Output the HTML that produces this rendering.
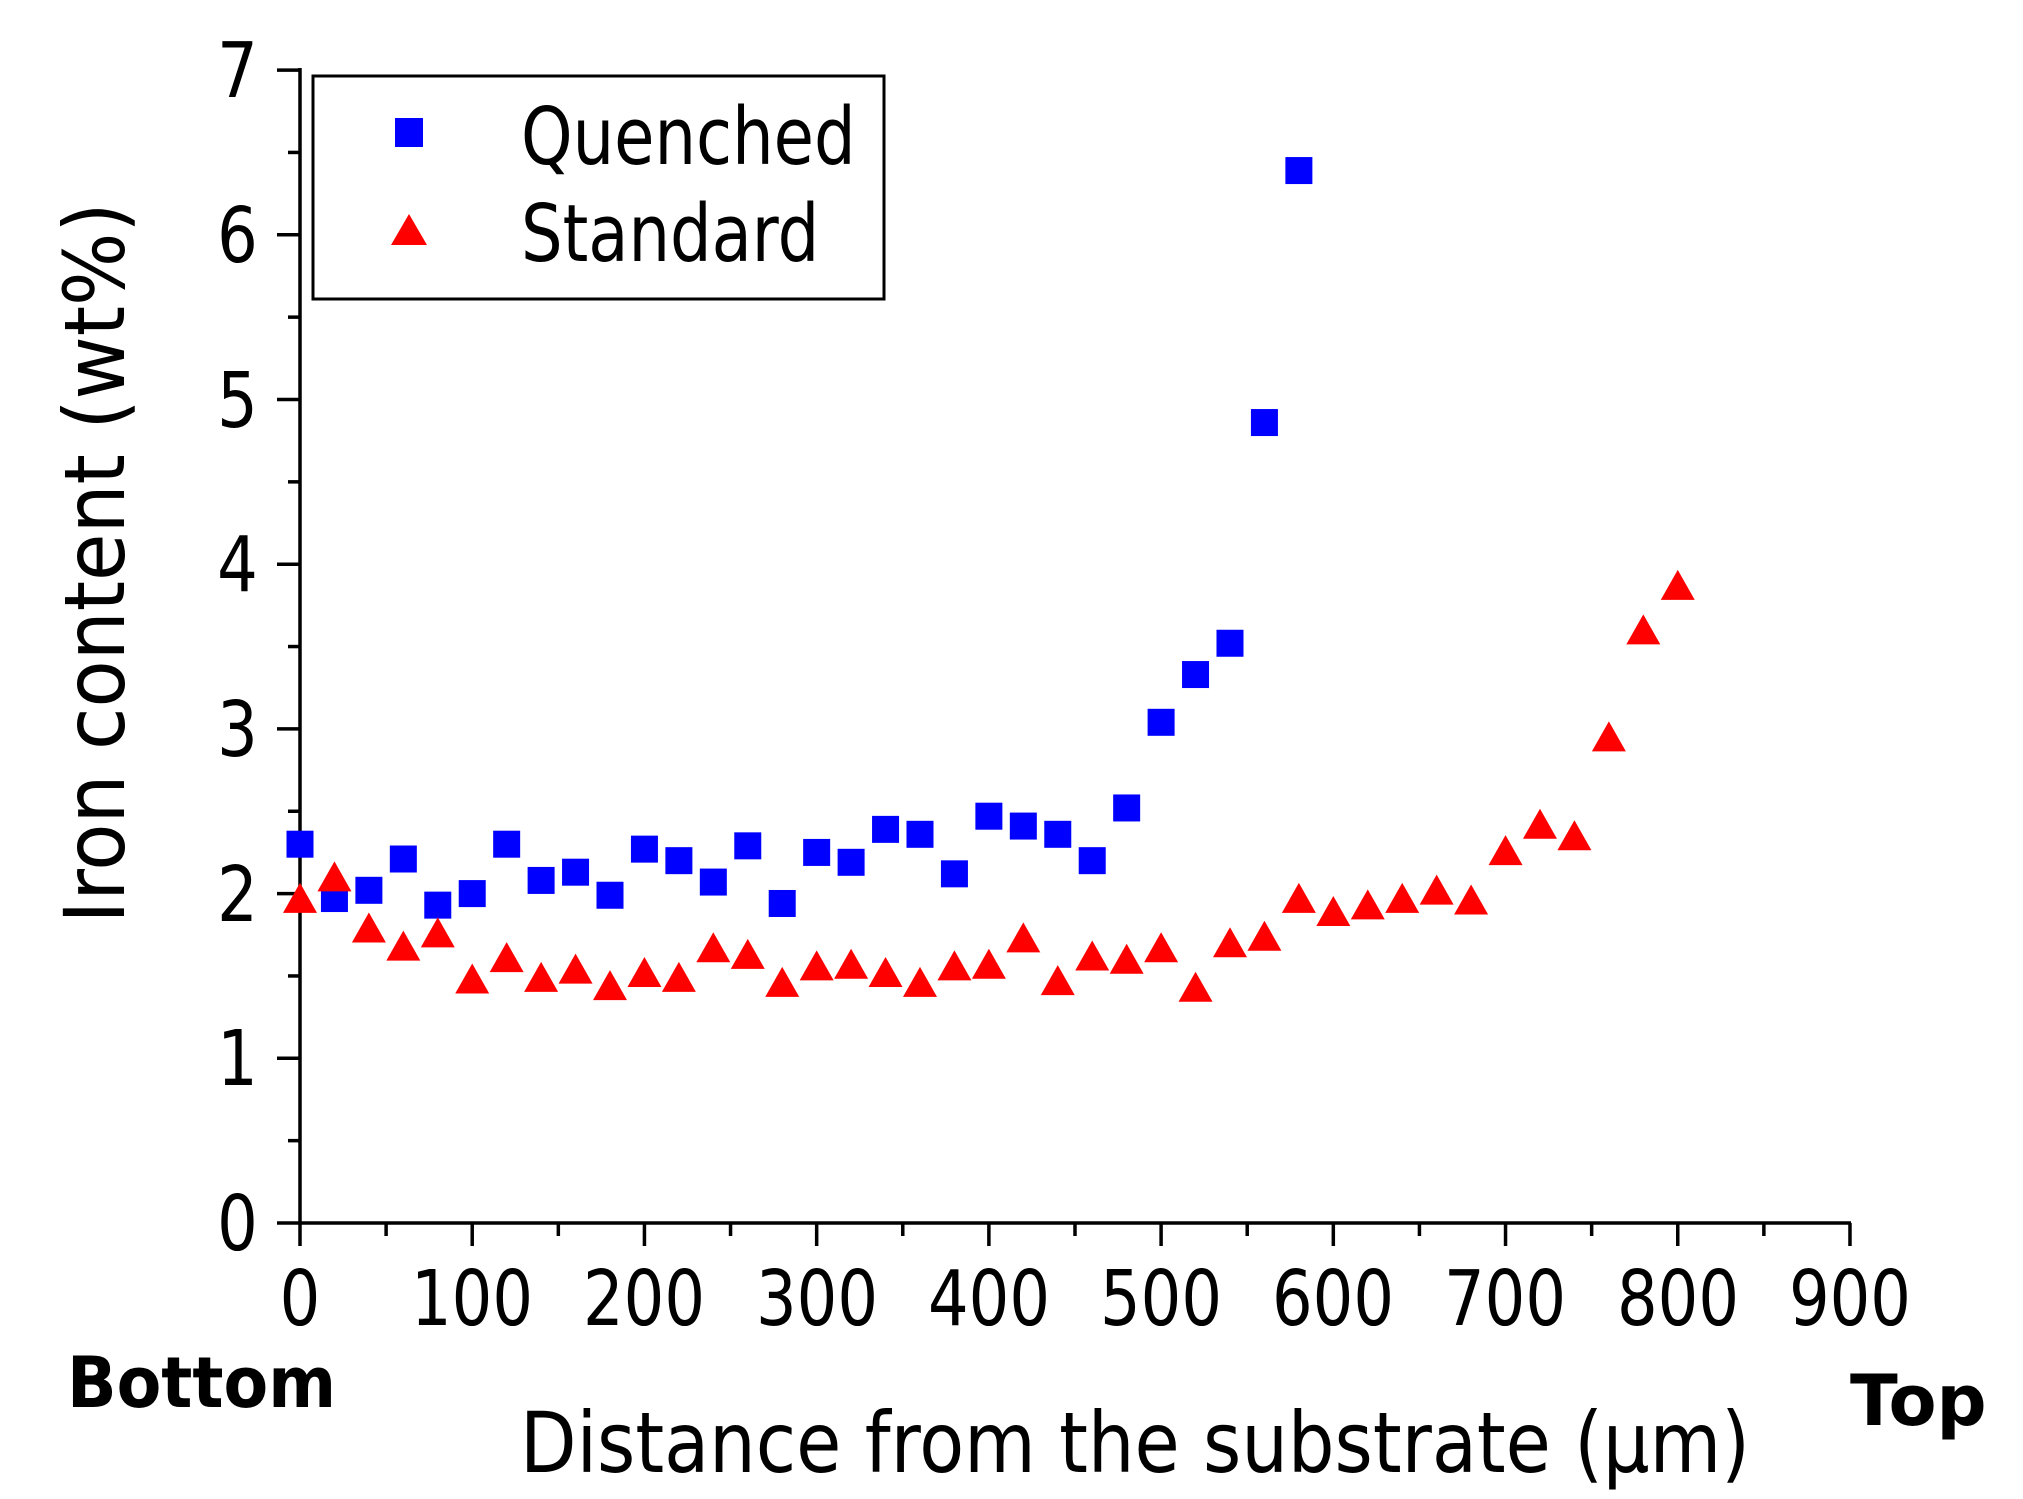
<!DOCTYPE html>
<html><head><meta charset="utf-8"><style>
html,body{margin:0;padding:0;background:#fff;}
svg{display:block;}
text{font-family:"DejaVu Sans","Liberation Sans",sans-serif;fill:#000;}
.c{transform-box:fill-box;transform-origin:center;transform:scaleX(0.83);}
.cl{transform-box:fill-box;transform-origin:left center;transform:scaleX(0.83);}
</style></head><body>
<svg id="s" width="2023" height="1499" viewBox="0 0 2023 1499" xmlns="http://www.w3.org/2000/svg">
<g id="ax" stroke="#000" stroke-width="3.5" fill="none">
<line x1="300" y1="68" x2="300" y2="1224"/>
<line x1="298" y1="1223" x2="1851" y2="1223"/>
</g>
<g font-size="77" text-anchor="middle">
<text class="c" x="300" y="1325">0</text>
<text class="c" x="472" y="1325">100</text>
<text class="c" x="644" y="1325">200</text>
<text class="c" x="817" y="1325">300</text>
<text class="c" x="989" y="1325">400</text>
<text class="c" x="1161" y="1325">500</text>
<text class="c" x="1333" y="1325">600</text>
<text class="c" x="1505" y="1325">700</text>
<text class="c" x="1678" y="1325">800</text>
<text class="c" x="1850" y="1325">900</text>
</g>
<g font-size="77" text-anchor="end">
<text class="c" x="262" y="1250">0</text>
<text class="c" x="262" y="1085">1</text>
<text class="c" x="262" y="921">2</text>
<text class="c" x="262" y="756">3</text>
<text class="c" x="262" y="591">4</text>
<text class="c" x="262" y="427">5</text>
<text class="c" x="262" y="262">6</text>
<text class="c" x="262" y="97">7</text>
</g>
<text class="c" x="1135" y="1472" font-size="84" text-anchor="middle" style="transform:scaleX(0.875)">Distance from the substrate (μm)</text>
<g transform="translate(124 563) rotate(-90)"><text class="c" x="0" y="0" font-size="84" text-anchor="middle" style="transform:scaleX(0.92)">Iron content (wt%)</text></g>
<text class="cl" x="67" y="1407" font-size="70" font-weight="bold" style="transform:scaleX(0.93)">Bottom</text>
<text class="cl" x="1850" y="1425" font-size="70" font-weight="bold" style="transform:scaleX(1.0)">Top</text>
<rect x="313" y="76" width="571" height="223" fill="#fff" stroke="#000" stroke-width="3"/>
<rect x="395" y="118" width="28" height="29" fill="#0000ff"/>
<polygon points="409,214 391,245 427,245" fill="#ff0000"/>
<text class="cl" x="521" y="164" font-size="79">Quenched</text>
<text class="cl" x="521" y="261" font-size="79">Standard</text>
<g id="pts"></g>
</svg>
<script>
var X=function(v){return 300+v*1.7222;},Y=function(v){return 1223-v*164.7;};
var ax=document.getElementById('ax'),pts=document.getElementById('pts'),h='';
for(var i=0;i<=18;i++){var x=X(i*50),L=i%2?13:23;h+='<line x1="'+x+'" y1="1223" x2="'+x+'" y2="'+(1223+L)+'"/>';}
for(var j=0;j<=14;j++){var y=Y(j*0.5),L=j%2?12:23;h+='<line x1="300" y1="'+y+'" x2="'+(300-L)+'" y2="'+y+'"/>';}
ax.innerHTML+=h;
var q=[2.3,1.97,2.02,2.21,1.93,2.0,2.3,2.08,2.13,1.99,2.27,2.2,2.07,2.29,1.94,2.25,2.19,2.39,2.36,2.12,2.47,2.41,2.36,2.2,2.52,3.04,3.33,3.52,4.86,6.39];
var s=[1.95,2.08,1.77,1.66,1.74,1.46,1.59,1.47,1.52,1.42,1.5,1.47,1.65,1.61,1.44,1.54,1.55,1.5,1.44,1.54,1.55,1.71,1.45,1.6,1.58,1.65,1.41,1.68,1.72,1.95,1.87,1.91,1.95,2.0,1.94,2.24,2.4,2.33,2.93,3.58,3.85];
var g='';
q.forEach(function(v,k){var x=X(k*20),y=Y(v);g+='<rect x="'+(x-13.5)+'" y="'+(y-13.5)+'" width="27" height="27" fill="#0000ff"/>';});
s.forEach(function(v,k){var x=X(k*20),y=Y(v);g+='<polygon points="'+x+','+(y-19)+' '+(x-17)+','+(y+11)+' '+(x+17)+','+(y+11)+'" fill="#ff0000"/>';});
pts.innerHTML=g;
</script>
</body></html>
